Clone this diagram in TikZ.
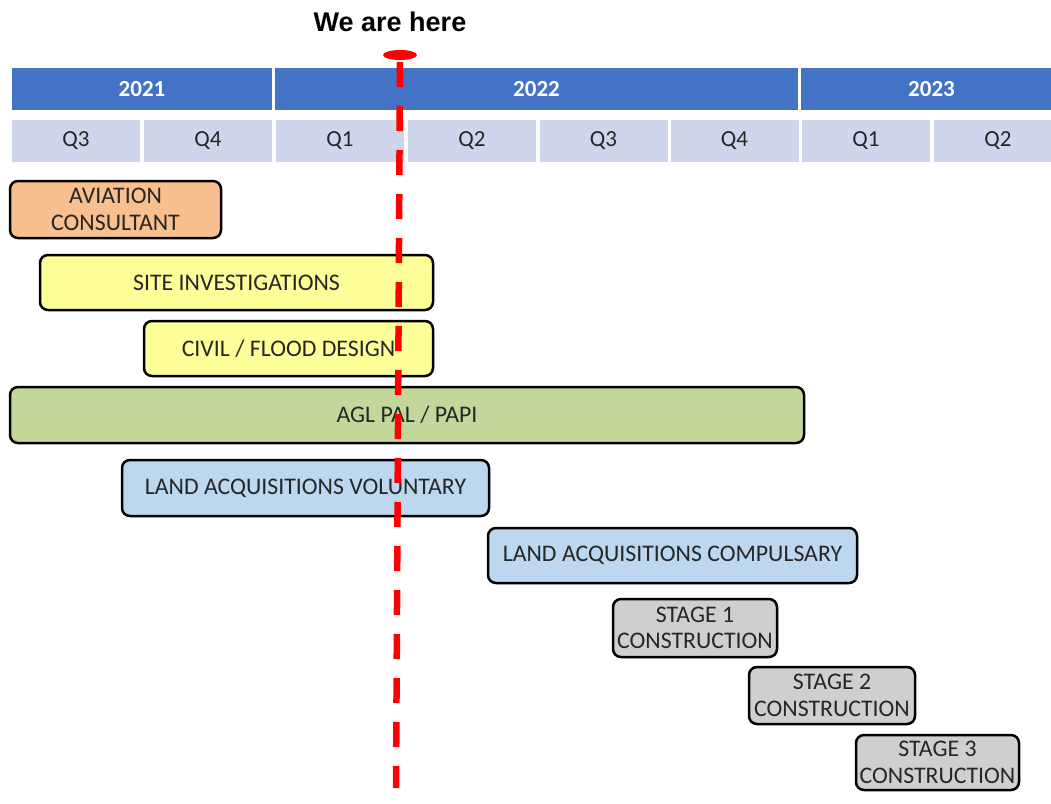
\documentclass[tikz,border=0pt]{standalone}
\usepackage{fontspec}
\setmainfont{Carlito}
\newfontfamily\arialfont{Liberation Sans}
\usetikzlibrary{shapes.geometric}
\definecolor{yearblue}{HTML}{4472C4}
\definecolor{qfill}{HTML}{CFD5EA}
\definecolor{orangefill}{HTML}{F8BF8F}
\definecolor{yellowfill}{HTML}{FFFF99}
\definecolor{greenfill}{HTML}{C4D79B}
\definecolor{bluefill}{HTML}{BDD7EE}
\definecolor{grayfill}{HTML}{D0CECE}
\definecolor{txtgray}{HTML}{262626}
\tikzset{
  yearbox/.style={fill=yearblue, draw=none, minimum height=42pt, inner sep=0pt,
    text=white, font=\fontsize{23}{26}\selectfont\bfseries},
  qbox/.style={fill=qfill, draw=none, minimum height=42pt, minimum width=128pt, inner sep=0pt,
    text=txtgray, font=\fontsize{23}{26}\selectfont},
  taskbox/.style={draw=black, line width=2.5pt, rounded corners=8pt, inner sep=0pt,
    text=txtgray, align=center, font=\fontsize{23.8}{26.5}\selectfont},
  redline/.style={draw=red, line width=6.5pt, dash pattern=on 25pt off 19pt}
}
\begin{document}
\begin{tikzpicture}[x=1pt,y=-1pt]
\useasboundingbox (0,0) rectangle (1051,803);
% years
\node[yearbox, minimum width=260pt] (y2021) at (142,89) {2021};
\node[yearbox, minimum width=523pt] (y2022) at (536.5,89) {2022};
\node[yearbox, minimum width=261pt] (y2023) at (931.5,89) {2023};
% quarters
\node[qbox] (q1) at (76,141) {Q3};
\node[qbox] (q2) at (208,141) {Q4};
\node[qbox] (q3) at (340,141) {Q1};
\node[qbox] (q4) at (472,141) {Q2};
\node[qbox] (q5) at (603.5,141) {Q3};
\node[qbox] (q6) at (734.5,141) {Q4};
\node[qbox] (q7) at (866,141) {Q1};
\node[qbox] (q8) at (998,141) {Q2};
% tasks
\node[taskbox, fill=orangefill, minimum width=211pt, minimum height=57pt] (avc) at (115.5,209.5) {AVIATION\\CONSULTANT};
\node[taskbox, fill=yellowfill, minimum width=393pt, minimum height=55pt] (site) at (236.5,282.5) {SITE INVESTIGATIONS};
\node[taskbox, fill=yellowfill, minimum width=289pt, minimum height=55pt] (civil) at (288.5,348.5) {CIVIL / FLOOD DESIGN};
\node[taskbox, fill=greenfill, minimum width=794pt, minimum height=56pt] (agl) at (407,415) {AGL PAL / PAPI};
\node[taskbox, fill=bluefill, minimum width=367pt, minimum height=56pt] (lav) at (305.5,488) {LAND ACQUISITIONS VOLUNTARY};
\node[taskbox, fill=bluefill, minimum width=369pt, minimum height=55pt] (lac) at (672.5,555.5) {LAND ACQUISITIONS COMPULSARY};
\node[taskbox, fill=grayfill, minimum width=164pt, minimum height=58pt] (s1) at (695,628) {STAGE 1\\CONSTRUCTION};
\node[taskbox, fill=grayfill, minimum width=166pt, minimum height=57pt] (s2) at (832,695.5) {STAGE 2\\CONSTRUCTION};
\node[taskbox, fill=grayfill, minimum width=163pt, minimum height=55pt] (s3) at (937.5,762.5) {STAGE 3\\CONSTRUCTION};
% marker
\node[font=\arialfont\fontsize{27}{30}\selectfont\bfseries, text=black] (here) at (390,22) {We are here};
\node[ellipse, fill=red, draw=none, minimum width=34pt, minimum height=10pt, inner sep=0pt] (pin) at (400,55) {};
\coordinate (lineend) at (396,788);
\draw[redline] (pin.center) ++(0,7) -- (lineend);
\end{tikzpicture}
\end{document}
